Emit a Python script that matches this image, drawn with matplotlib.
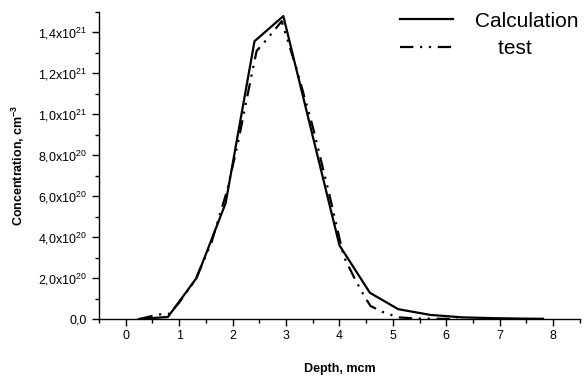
import matplotlib
matplotlib.use("Agg")
import matplotlib.pyplot as plt
from matplotlib.ticker import MultipleLocator, FixedLocator, FixedFormatter

plt.rcParams['font.family'] = ['Liberation Sans', 'DejaVu Sans']
plt.rcParams['mathtext.fontset'] = 'custom'
plt.rcParams['mathtext.rm'] = 'Liberation Sans'
plt.rcParams['mathtext.it'] = 'Liberation Sans:italic'
plt.rcParams['mathtext.bf'] = 'Liberation Sans:bold'

# Data (depth in micrometres, concentration in cm^-3)
calc_depth = [0.25, 0.79, 1.33, 1.87, 2.41, 2.95, 4.0, 4.57, 5.1, 5.7, 6.3, 6.9, 7.4, 7.81]
calc_conc = [0.0, 0.01e21, 0.202e21, 0.566e21, 1.357e21, 1.48e21, 0.36e21,
             0.128e21, 0.048e21, 0.02e21, 0.008e21, 0.004e21, 0.002e21, 0.001e21]

test_depth = [0.26, 0.45, 0.6, 0.82, 1.0, 1.3, 1.6, 1.9, 2.1, 2.3, 2.45, 2.62,
              2.92, 3.2, 3.5, 3.8, 4.08, 4.3, 4.47, 4.58, 4.8, 5.1, 5.4, 5.8, 6.2]
test_conc = [0.0, 0.012e21, 0.022e21, 0.026e21, 0.08e21, 0.19e21, 0.37e21,
             0.63e21, 0.86e21, 1.12e21, 1.31e21, 1.36e21, 1.455e21, 1.22e21,
             0.94e21, 0.62e21, 0.305e21, 0.19e21, 0.109e21, 0.064e21, 0.035e21,
             0.008e21, 0.003e21, 0.001e21, 0.0]

y_ticks = [0.0, 0.2e21, 0.4e21, 0.6e21, 0.8e21, 1.0e21, 1.2e21, 1.4e21]
y_tick_labels = ["0,0", "2,0x10$^{20}$", "4,0x10$^{20}$", "6,0x10$^{20}$",
                 "8,0x10$^{20}$", "1,0x10$^{21}$", "1,2x10$^{21}$", "1,4x10$^{21}$"]
x_ticks = [0, 1, 2, 3, 4, 5, 6, 7, 8]

fig = plt.figure(figsize=(5.84, 3.76), dpi=100)
ax = fig.add_axes([0.1695, 0.1516, 0.8235, 0.8165])

ax.plot(calc_depth, calc_conc, color='black', lw=1.6, label='Calculation')
ax.plot(test_depth, test_conc, color='black', lw=1.6,
        linestyle=(0, (6, 3, 1, 3, 1, 3)), label='    test')

ax.set_xlim(-0.5, 8.5)
ax.set_ylim(0, 1.5e21)

ax.xaxis.set_major_locator(FixedLocator(x_ticks))
ax.xaxis.set_minor_locator(MultipleLocator(0.5))
ax.yaxis.set_major_locator(FixedLocator(y_ticks))
ax.yaxis.set_major_formatter(FixedFormatter(y_tick_labels))
ax.yaxis.set_minor_locator(MultipleLocator(0.1e21))

for s in ['top', 'right']:
    ax.spines[s].set_visible(False)
for s in ['left', 'bottom']:
    ax.spines[s].set_linewidth(1.0)

ax.tick_params(which='major', direction='out', length=5, width=1.0, labelsize=9)
ax.tick_params(which='minor', direction='out', length=3, width=1.0)
ax.tick_params(axis='x', pad=3)

ax.set_xlabel('Depth, mcm', fontsize=9, fontweight='bold', labelpad=15)
ax.set_ylabel(r'Concentration, cm$^{\mathbf{-3}}$', fontsize=9, fontweight='bold', labelpad=8)

ax.legend(loc='upper left', bbox_to_anchor=(0.587, 1.062), frameon=False,
          fontsize=15, handlelength=2.55, handletextpad=1.05, labelspacing=0.4)

fig.savefig('out.png', dpi=100)
